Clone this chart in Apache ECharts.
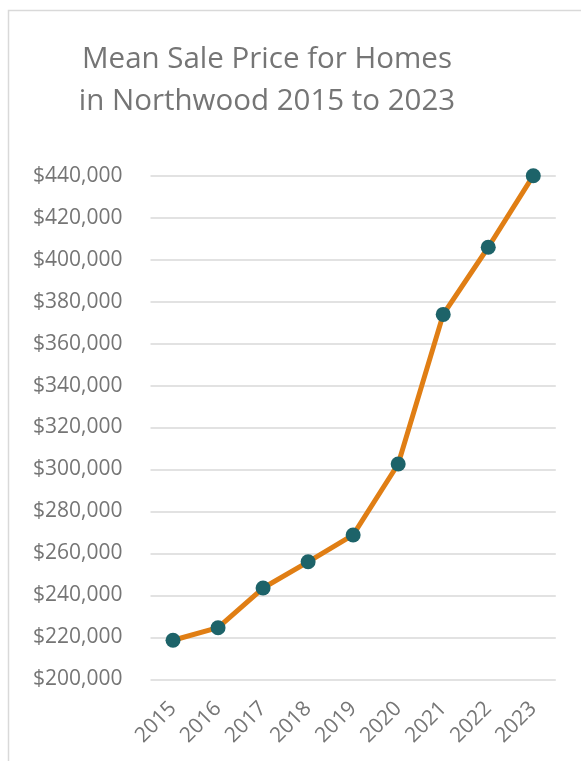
<!DOCTYPE html>
<html>
<head>
<meta charset="utf-8">
<script src="https://cdn.jsdelivr.net/npm/echarts@6/dist/echarts.min.js"></script>
<style>
  html, body { margin: 0; padding: 0; background: #ffffff; }
  #chart { width: 581px; height: 761px; }
</style>
</head>
<body>
<div id="chart"></div>
<script>
// Mean sale price by year
const years = ['2015', '2016', '2017', '2018', '2019', '2020', '2021', '2022', '2023'];
const meanPrice = [218600, 224600, 243500, 256000, 268800, 302600, 373900, 405900, 440000];

const yMin = 200000;
const yMax = 440000;
const yStep = 20000;

const textGray = '#757575';
const fontFamily = '"Open Sans", "Noto Sans", sans-serif';

const chart = echarts.init(document.getElementById('chart'), null, { renderer: 'canvas' });

chart.setOption({
  animation: false,
  backgroundColor: '#ffffff',
  graphic: [{
    type: 'rect',
    shape: { x: 8.5, y: 10.5, width: 700, height: 900 },
    style: { fill: 'none', stroke: '#d9d9d9', lineWidth: 1.5 },
    silent: true,
    z: -1
  }],
  title: {
    text: 'Mean Sale Price for Homes\nin Northwood 2015 to 2023',
    left: 262,
    top: 34,
    textAlign: 'center',
    textStyle: {
      color: textGray,
      fontFamily: fontFamily,
      fontWeight: 'normal',
      fontSize: 29.5,
      lineHeight: 42
    }
  },
  grid: {
    left: 150.5,
    right: 25.2,
    top: 175.7,
    bottom: 81.7,
    containLabel: false
  },
  xAxis: {
    type: 'category',
    data: years,
    boundaryGap: true,
    axisLine: { show: false },
    axisTick: { show: false },
    axisLabel: {
      rotate: 45,
      margin: 26,
      verticalAlign: 'middle',
      color: textGray,
      fontFamily: fontFamily,
      fontSize: 21
    }
  },
  yAxis: {
    type: 'value',
    min: yMin,
    max: yMax,
    interval: yStep,
    axisLine: { show: false },
    axisTick: { show: false },
    splitLine: { lineStyle: { color: '#d9d9d9', width: 1.5 } },
    axisLabel: {
      margin: 28,
      color: textGray,
      fontFamily: fontFamily,
      fontSize: 21,
      formatter: function (v) {
        return '$' + v.toLocaleString('en-US');
      }
    }
  },
  series: [{
    type: 'line',
    data: meanPrice,
    clip: false,
    symbol: 'circle',
    symbolSize: 15,
    lineStyle: { color: '#E07E14', width: 5 },
    itemStyle: { color: '#1D6369', borderWidth: 0 }
  }]
});
</script>
</body>
</html>
